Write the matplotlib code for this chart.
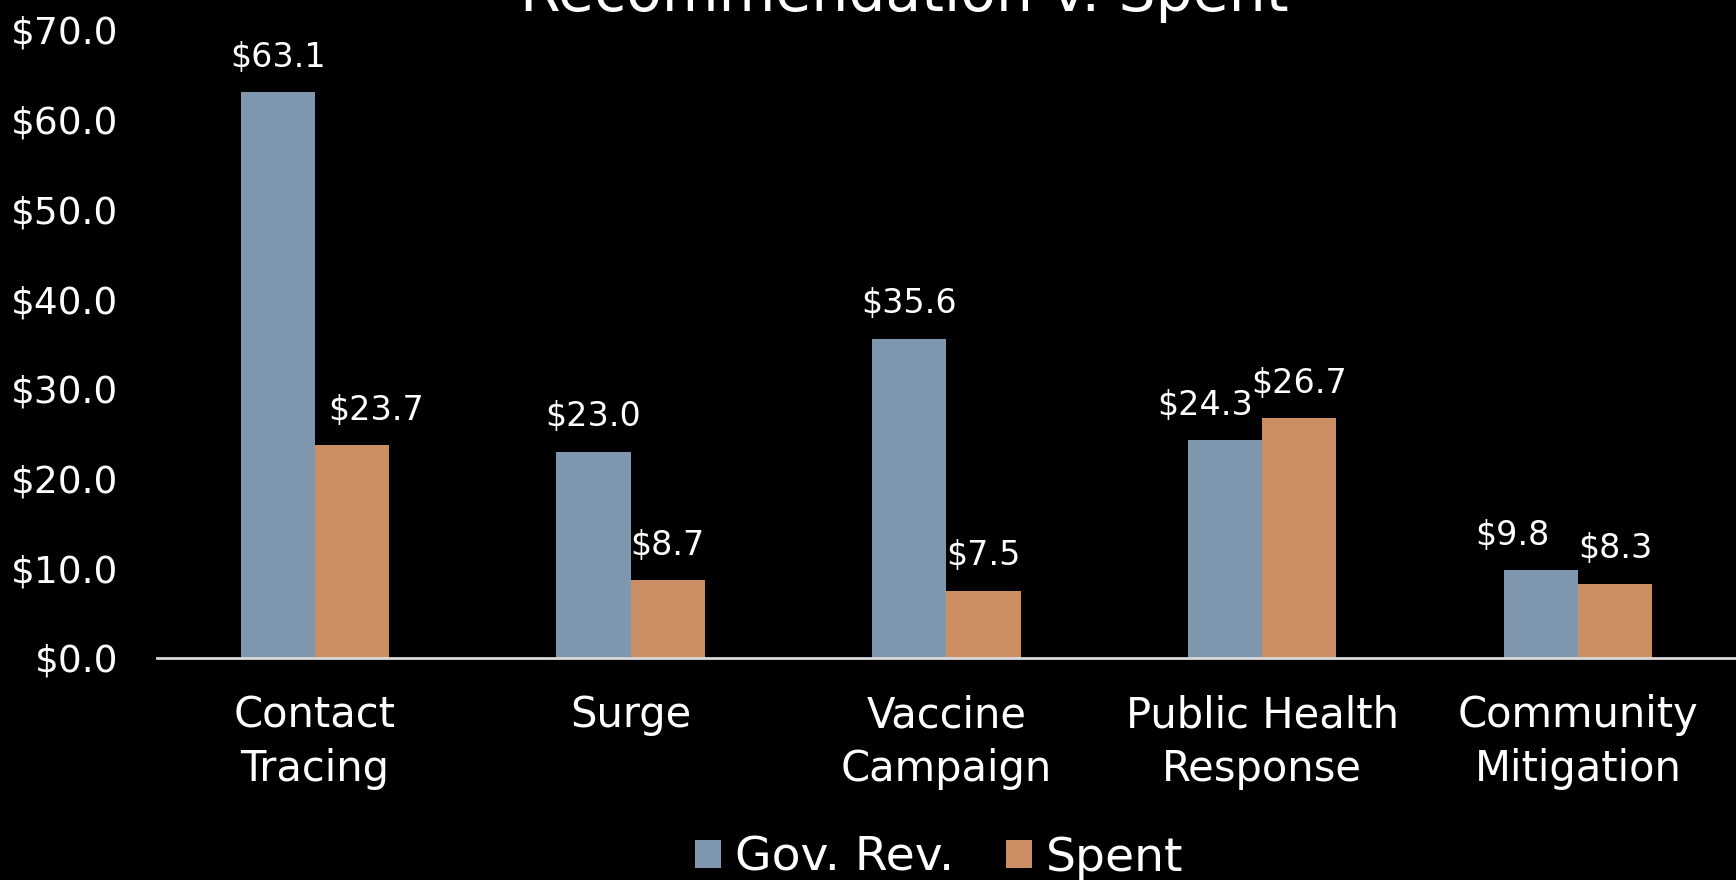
import matplotlib.pyplot as plt
import numpy as np

categories = ['Contact\nTracing', 'Surge', 'Vaccine\nCampaign', 'Public Health\nResponse', 'Community\nMitigation']
gov_rev = [63.1, 23.0, 35.6, 24.3, 9.8]
spent = [23.7, 8.7, 7.5, 26.7, 8.3]

c_gov = '#7f97ae'
c_spent = '#cc8e63'

plt.rcParams['font.family'] = ['DejaVu Sans']

fig = plt.figure(figsize=(17.36, 8.8), dpi=100, facecolor='black')
ax = fig.add_axes([0.0904, 0.2523, 0.9096, 0.7137])
ax.set_facecolor('black')

x = np.arange(len(categories))
w = 0.235
b1 = ax.bar(x - w / 2, gov_rev, w, color=c_gov, label='Gov. Rev.')
b2 = ax.bar(x + w / 2, spent, w, color=c_spent, label='Spent')

# label nudges in pixels (Excel pushes a few labels sideways)
shift1 = [0, 0, 0, -20, -29]
shift2 = [24, 0, 0, 0, 0]
for bars, vals, sh in [(b1, gov_rev, shift1), (b2, spent, shift2)]:
    for r, v, s in zip(bars, vals, sh):
        ax.annotate('$%.1f' % v, (r.get_x() + r.get_width() / 2, v),
                    xytext=(s * 0.72, 25), textcoords='offset points',
                    ha='center', va='center', color='white', fontsize=24)

ax.set_xlim(-0.5, 4.5)
ax.set_ylim(0, 70)
ax.set_yticks(np.arange(0, 71, 10))
ax.set_yticklabels(['$%.1f' % t for t in np.arange(0, 71, 10)])
ax.set_xticks(x)
ax.set_xticklabels(categories, linespacing=1.35)
ax.tick_params(axis='y', length=0, labelsize=27, colors='white', pad=28)
ax.tick_params(axis='x', length=0, labelsize=30, colors='white', pad=26)
for s in ['top', 'right', 'left']:
    ax.spines[s].set_visible(False)
ax.spines['bottom'].set_color('#d9d9d9')
ax.spines['bottom'].set_linewidth(2)

fig.text(0.521, 0.987, 'Recommendation v. Spent', ha='center', va='baseline',
         color='white', fontsize=42)

fig.legend(handles=[b1, b2], loc='center', bbox_to_anchor=(0.541, 0.025), ncol=2,
           frameon=False, fontsize=34, labelcolor='white', handlelength=0.55,
           handleheight=0.55, handletextpad=0.3, columnspacing=1.1)

fig.savefig('out.png', dpi=100, facecolor='black')
